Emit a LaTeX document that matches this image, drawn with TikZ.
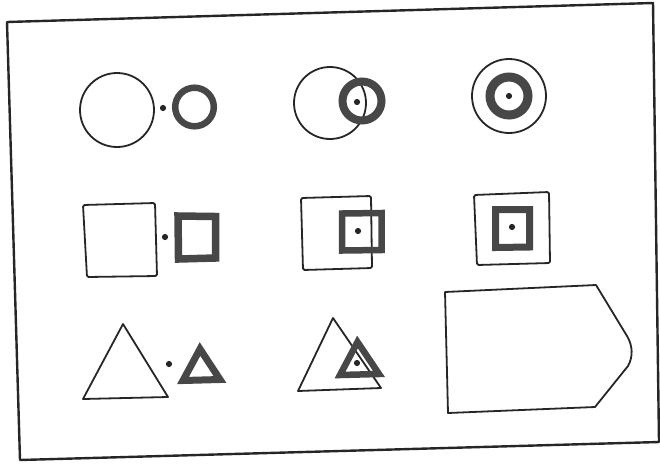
\documentclass[tikz,border=0pt]{standalone}
\usetikzlibrary{calc}
\definecolor{ink}{HTML}{262626}
\definecolor{thickink}{HTML}{474747}
\tikzset{
  thin/.style={draw=ink, line width=1.8pt, line join=round},
  heavy/.style={draw=thickink, line width=7pt, line join=miter},
  frameline/.style={draw=ink, line width=2.4pt, line join=round},
  spot/.style={fill=ink, draw=none},
}
\begin{document}
\begin{tikzpicture}[x=1pt,y=-1pt]
\useasboundingbox (0,0) rectangle (660,464);
% frame
\draw[frameline] (7,22) -- (653,3) -- (659,442) -- (20,460) -- cycle;

% ---- row 1: circles ----
\draw[thin] (117,110) circle[radius=37];
\fill[spot] (163,108) circle[radius=3.1];
\draw[heavy, line width=6.5pt] (194.5,107) circle[radius=19.3];

\draw[thin] (330,103) circle[radius=36];
\draw[heavy, line width=8pt] (362,101) circle[radius=19.5];
\fill[spot] (357,102) circle[radius=3.1];

\draw[thin] (509,96) circle[radius=37];
\draw[heavy, line width=9pt] (509,96) circle[radius=19];
\fill[spot] (509,96) circle[radius=3.1];

% ---- row 2: squares ----
\draw[thin, rounded corners=1.5pt] (83,205) -- (155,203) -- (157,276) -- (87,277) -- cycle;
\fill[spot] (165,237) circle[radius=3.1];
\draw[heavy, line width=7.5pt] (178,216) -- (215.5,216.5) -- (215.5,258) -- (178.5,259) -- cycle;

\draw[thin, rounded corners=1.5pt] (301,198) -- (371,196) -- (372,268) -- (303,270) -- cycle;
\draw[heavy, line width=6.5pt] (342,213.5) -- (381.5,213) -- (381.5,250) -- (342,250.5) -- cycle;
\fill[spot] (358,231) circle[radius=3.1];

\draw[thin, rounded corners=1.5pt] (474,195) -- (549,192) -- (550,263) -- (477,265) -- cycle;
\draw[heavy, line width=7pt] (495.5,209.5) -- (529.5,209.5) -- (529.5,247) -- (495.5,247.5) -- cycle;
\fill[spot] (512,227) circle[radius=3.1];

% ---- row 3: triangles and pentagon ----
\draw[thin] (123,324) -- (168,397) -- (83,399) -- cycle;
\fill[spot] (169,364) circle[radius=3.1];
\draw[heavy] (200,349) -- (220,379.5) -- (183,380.5) -- cycle;

\draw[thin] (333,318) -- (381,388) -- (298,391) -- cycle;
\draw[heavy, line width=6.5pt] (357.5,342) -- (379,374) -- (340,375) -- cycle;
\fill[spot] (357,363) circle[radius=3.1];

\draw[thin] (445,292) -- (596,285) -- (627,336)
  .. controls (633,346) and (633,357) .. (628,366)
  -- (595,407) -- (448,413) -- cycle;
\end{tikzpicture}
\end{document}
